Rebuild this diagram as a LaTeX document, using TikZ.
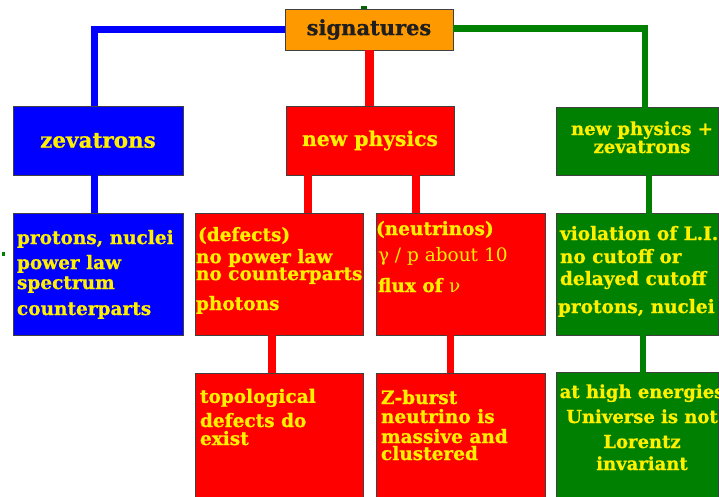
\documentclass[tikz,border=0pt]{standalone}
\usepackage{fontspec}
\setmainfont{DejaVu Serif}[BoldFeatures={FakeBold=0.8}]
\definecolor{cblue}{RGB}{0,0,255}
\definecolor{cred}{RGB}{255,0,0}
\definecolor{cgreen}{RGB}{0,128,0}
\definecolor{corange}{RGB}{255,153,0}
\definecolor{ctxt}{RGB}{255,240,0}
\definecolor{cedge}{RGB}{64,64,64}
\begin{document}
\begin{tikzpicture}[x=1pt,y=-1pt,
  box/.style={draw=cedge, line width=0.8pt, inner sep=0pt, outer sep=0pt, rectangle},
  bluebox/.style={box, fill=cblue},
  redbox/.style={box, fill=cred},
  greenbox/.style={box, fill=cgreen},
  conn/.style={line width=7pt},
  txt/.style={text=ctxt, inner sep=0pt, outer sep=0pt, align=left, anchor=base west},
  ctxtn/.style={text=ctxt, inner sep=0pt, outer sep=0pt, align=center, anchor=base},
]
\useasboundingbox (0,0) rectangle (719,496);

% ---- boxes ----
\node[box, fill=corange, minimum width=168pt, minimum height=41pt,
      font=\fontsize{21}{24}\selectfont\bfseries, text=black!88] (sig) at (369,29.5) {signatures};
\node[bluebox, minimum width=170pt, minimum height=69pt,
      font=\fontsize{21.5}{24}\selectfont\bfseries, text=ctxt] (zev) at (98,140.5) {zevatrons};
\node[redbox, minimum width=168pt, minimum height=69pt,
      font=\fontsize{20.3}{24}\selectfont\bfseries, text=ctxt] (np) at (370,140.5) {new physics};
\node[greenbox, minimum width=162pt, minimum height=68pt] (npz) at (637,141) {};

\node[bluebox, minimum width=170pt, minimum height=122pt] (zev2) at (98,274) {};
\node[redbox, minimum width=168pt, minimum height=122pt] (def) at (279,274) {};
\node[redbox, minimum width=169pt, minimum height=122pt] (neu) at (460.5,274) {};
\node[greenbox, minimum width=162pt, minimum height=122pt] (li) at (637,274) {};

\node[redbox, minimum width=168pt, minimum height=130pt] (topo) at (279,438) {};
\node[redbox, minimum width=169pt, minimum height=130pt] (zb) at (460.5,438) {};
\node[greenbox, minimum width=162pt, minimum height=130pt] (hi) at (637,437) {};

% ---- texts (base anchor = baseline of the last line) ----
\node[ctxtn, font=\fontsize{18}{18}\selectfont\bfseries] (npzt) at (642,153)
  {new physics +\\zevatrons};
\node[txt, font=\fontsize{18.5}{20}\selectfont\bfseries] (zev2t) at (17,315)
  {protons, nuclei\\[5pt]power law\\spectrum\\[6pt]counterparts};
\node[txt, font=\fontsize{18.5}{17}\selectfont\bfseries] (deft) at (196,310)
  {\hspace*{2pt}(defects)\\[5pt]no power law\\no counterparts\\[11pt]photons};
\node[txt, font=\fontsize{18.5}{17}\selectfont\bfseries] (neut) at (376,292)
  {(neutrinos)\\[9pt]\hspace*{2pt}{\mdseries\fontsize{18.5}{17}\selectfont γ / p about 10}\\[12pt]\hspace*{2pt}flux of {\mdseries ν}};
\node[txt, font=\fontsize{18.5}{22}\selectfont\bfseries] (lit) at (560,313)
  {violation of L.I.\\[1pt]no cutoff or\\delayed cutoff\\[6pt]\hspace*{-2pt}protons, nuclei};
\node[txt, font=\fontsize{18.5}{18}\selectfont\bfseries] (topot) at (200,445)
  {topological\\[5pt]defects do\\exist};
\node[txt, font=\fontsize{18.5}{19}\selectfont\bfseries] (zbt) at (381,460)
  {Z-burst\\neutrino is\\[1pt]massive and\\[-2pt]clustered};
\node[ctxtn, font=\fontsize{18}{24}\selectfont\bfseries] (hit) at (642,470)
  {at high energies\\[1pt]Universe is not\\[1pt]Lorentz\\[-2pt]invariant};

% ---- connectors ----
\draw[conn, cblue] (sig.west) -| ([xshift=-4pt]zev.north);
\draw[conn, cblue] ([xshift=-4pt]zev.south) -- ([xshift=-4pt]zev2.north);

\draw[conn, cred, line width=9pt] (sig.south) -- ([xshift=-1pt]np.north);
\coordinate (c1) at ([xshift=29pt]def.north);
\coordinate (c2) at ([xshift=-44.5pt]neu.north);
\draw[conn, cred, line width=8pt] (c1 |- np.south) -- (c1);
\draw[conn, cred, line width=8pt] (c2 |- np.south) -- (c2);
\draw[conn, cred, line width=8pt] ([xshift=-7pt]def.south) -- ([xshift=-7pt]topo.north);
\draw[conn, cred, line width=7pt] ([xshift=-10.5pt]neu.south) -- ([xshift=-10.5pt]zb.north);

\draw[conn, cgreen, line width=6.5pt] ([yshift=1pt]sig.east) -| ([xshift=8pt,yshift=-7pt]npz.north);
\draw[conn, cgreen, line width=6pt] ([xshift=11.5pt,yshift=2pt]npz.south) -- ([xshift=11.5pt,yshift=-1pt]li.north);
\draw[conn, cgreen, line width=6pt] ([xshift=6pt,yshift=3pt]li.south) -- ([xshift=6pt,yshift=-2pt]hi.north);

% ---- small stray marks ----
\fill[cgreen] (1.5,252) rectangle (5,256);
\fill[cgreen!80!black] (361,6) rectangle (367,9);
\end{tikzpicture}
\end{document}
